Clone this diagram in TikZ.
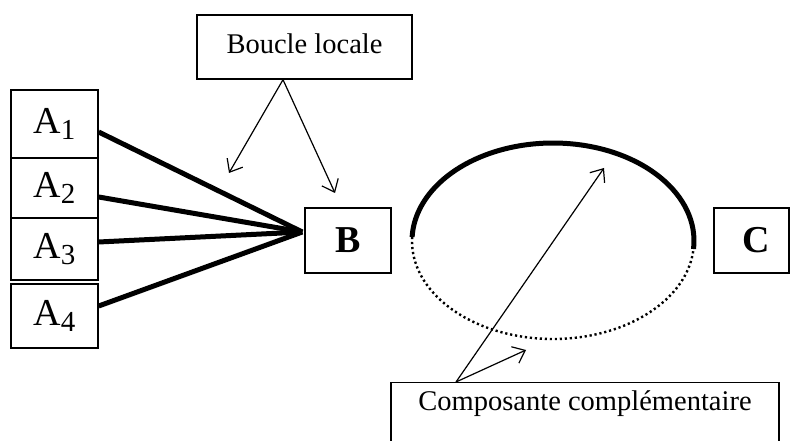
\documentclass[tikz,border=0pt]{standalone}
\usepackage{fontspec}
\setmainfont{Liberation Serif}
\usetikzlibrary{arrows.meta,calc}
\begin{document}
\begin{tikzpicture}[x=1pt,y=1pt,
 box/.style={draw, line width=1.4pt, inner sep=0pt},
 feed/.style={line width=5pt},
 ptr/.style={line width=1.2pt, -{Straight Barb[length=11pt,width=18pt,line width=1.2pt]}},
 lbl/.style={font=\fontsize{28.5}{32}\selectfont},
 abox/.style={box, minimum width=87pt, font=\fontsize{38}{40}\selectfont},
 bigl/.style={font=\fontsize{38}{40}\selectfont\bfseries},
 solidarc/.style={line width=5pt},
 dotarc/.style={line width=2.4pt, dash pattern=on 2.2pt off 2.8pt},
]
\useasboundingbox (0,0) rectangle (790,441);
\clip (0,0) rectangle (790,441);
\newcommand{\subdigit}[1]{\raisebox{-6pt}{\fontsize{29}{29}\selectfont #1}}

% A boxes
\node[abox, minimum height=68pt] (a1) at (54.5,317) {A\subdigit{1}};
\node[abox, minimum height=60pt] (a2) at (54.5,253) {A\subdigit{2}};
\node[abox, minimum height=62pt] (a3) at (54.5,192) {A\subdigit{3}};
\node[abox, minimum height=64pt] (a4) at (54.5,125) {A\subdigit{4}};

% B and C
\node[box, minimum width=86pt, minimum height=65pt] (b) at (348,200.5) {};
\node[bigl] (bt) at (b.center) {B};
\node[box, minimum width=75pt, minimum height=65pt] (c) at (751.5,200.5) {};
\node[bigl] (ct) at ($(c.center)+(5,0)$) {C};

% converging thick lines
\coordinate (bin) at ($(b.west)+(-2,8.5)$);
\draw[feed] ($(a1.east)+(0,-8)$) -- (bin);
\draw[feed] ($(a2.east)+(0,-9)$) -- (bin);
\draw[feed] ($(a3.east)+(0,7)$) -- (bin);
\draw[feed] ($(a4.east)+(0,10)$) -- (bin);

% Boucle locale
\node[box, minimum width=215pt, minimum height=64pt] (boucle) at (304.5,394) {};
\node[lbl] (bouclet) at ($(boucle.center)+(0,3)$) {Boucle locale};
\coordinate (bs) at ($(boucle.south)+(-21.5,0)$);
\coordinate (bl) at (229,268);
\coordinate (br) at (335,248);
\draw[ptr] (bs) -- (bl);
\draw[ptr] (bs) -- (br);

% ellipse
\coordinate (ec) at (553,200);
\draw[solidarc] ($(ec)+(-4.7:141pt and 98pt)$) arc[start angle=-4.7, end angle=177.66, x radius=141pt, y radius=98pt];
\draw[dotarc] ($(ec)+(177.66:141pt and 98pt)$) arc[start angle=177.66, end angle=355.3, x radius=141pt, y radius=98pt];

% Composante complementaire
\node[box, minimum width=388pt, minimum height=90pt, anchor=north] (comp) at (585,59) {};
\node[lbl] (compt) at ($(comp.north)+(0,-22)$) {Composante complémentaire};
\coordinate (cs) at ($(comp.north)+(-129,0)$);
\coordinate (cu) at (604,273);
\coordinate (cd) at (526,91);
\draw[ptr] (cs) -- (cu);
\draw[ptr] (cs) -- (cd);
\end{tikzpicture}
\end{document}
